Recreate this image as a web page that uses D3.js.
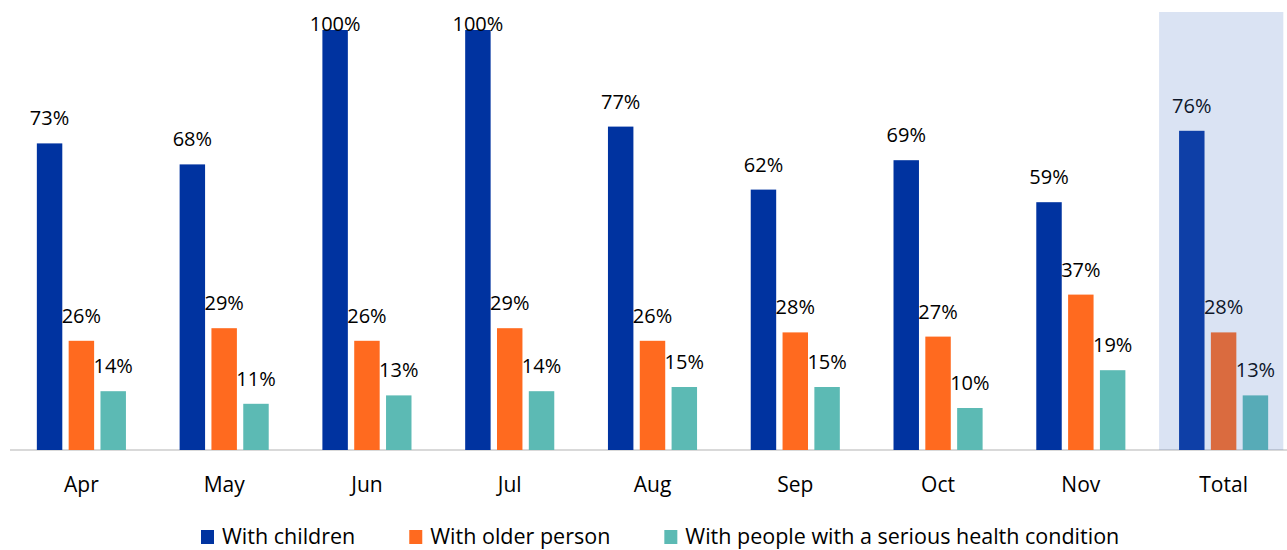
<!DOCTYPE html>
<html><head><meta charset="utf-8">
<script src="https://cdn.jsdelivr.net/npm/d3@7"></script>
<style>body{margin:0;background:#fff;} svg{display:block;font-family:"Open Sans",Lato,sans-serif;}</style>
</head><body><svg id="c" width="1287" height="550"></svg>
<script>
const categories = ["Apr","May","Jun","Jul","Aug","Sep","Oct","Nov","Total"];
const seriesNames = ["With children","With older person","With people with a serious health condition"];
const withChildren = [73,68,100,100,77,62,69,59,76];
const withOlder = [26,29,26,29,26,28,27,37,28];
const withHealth = [14,11,13,14,15,15,10,19,13];
const colors = ["#0033A0","#FF6A1F","#5CBAB4"];
const highlightCat = "Total";

const seriesValues = [withChildren, withOlder, withHealth];
const data = categories.map((c,i)=>({cat:c, vals: seriesValues.map((s,j)=>({key:seriesNames[j], v:s[i], j}))}));

const svg = d3.select("#c");
const W = 1287, H = 550;
const baseY = 450, topY = 30;
const x0 = d3.scaleBand().domain(categories).range([10, 1295]).padding(0);
const half = x0.step()*0.312;
const x1 = d3.scaleBand().domain(seriesNames).range([-half, half]).paddingInner(0.2).paddingOuter(0);
const y = d3.scaleLinear().domain([0,100]).range([baseY, topY]);

// axis
const xAxis = d3.axisBottom(x0).tickSize(0).tickPadding(0);
const gx = svg.append("g").attr("transform",`translate(0,${baseY})`).call(xAxis);
gx.select(".domain").remove();
gx.selectAll("text").attr("font-size",21).attr("fill","#000").attr("font-family","Open Sans").attr("dy",null).attr("y",42);
svg.append("line").attr("x1",10).attr("x2",W).attr("y1",baseY).attr("y2",baseY).attr("stroke","#d9d9d9").attr("stroke-width",2);

const groups = svg.append("g").selectAll("g").data(data).join("g")
  .attr("transform",d=>`translate(${x0(d.cat)+x0.bandwidth()/2},0)`);
groups.selectAll("rect").data(d=>d.vals).join("rect")
  .attr("x",d=>x1(d.key)).attr("width",x1.bandwidth())
  .attr("y",d=>y(d.v)).attr("height",d=>baseY-y(d.v)).attr("fill",d=>colors[d.j]);
groups.selectAll("text").data(d=>d.vals).join("text")
  .attr("x",d=>x1(d.key)+x1.bandwidth()/2)
  .attr("y",d=>Math.max(y(d.v)-18, topY+1))
  .attr("text-anchor","middle").attr("font-size",20).attr("fill","#000")
  .text(d=>d.v+"%");

// highlight overlay
const hx = x0(highlightCat)+x0.step()*0.048;
svg.append("rect").attr("x",hx).attr("y",12).attr("width",x0.step()*0.87).attr("height",baseY-12)
  .attr("fill","#4472C4").attr("opacity",0.2);

// legend
const leg = svg.append("g");
let lx = 201;
seriesNames.forEach((n,j)=>{
  leg.append("rect").attr("x",lx).attr("y",530).attr("width",13).attr("height",14).attr("fill",colors[j]);
  const t = leg.append("text").attr("x",lx+21).attr("y",544).attr("font-size",21.5).attr("fill","#000").text(n);
  lx += 21 + t.node().getComputedTextLength() + 54;
});
</script></body></html>
